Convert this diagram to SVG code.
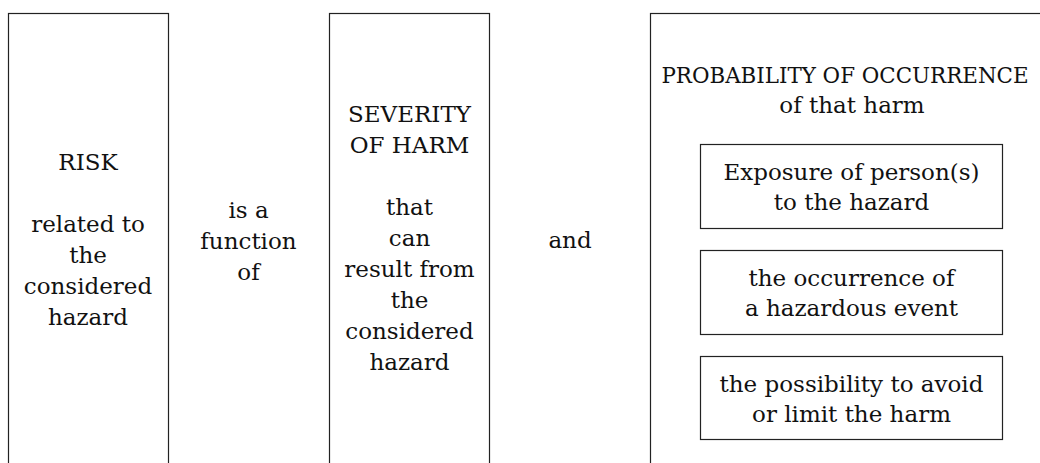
<svg xmlns="http://www.w3.org/2000/svg" width="1040" height="463" viewBox="0 0 1040 463">
<style>
.box{fill:#fff;stroke:#222;stroke-width:1.2}
text{font-family:"DejaVu Serif","Liberation Serif",serif;font-size:23px;fill:#111;text-anchor:middle}
.title{font-size:21.4px}
</style>
<rect width="1040" height="463" fill="#fff"/>
<g id="risk">
<rect class="box" x="8.5" y="13.5" width="160" height="470"/>
<text x="88" y="170">RISK</text>
<text x="88" y="232">related to</text>
<text x="88" y="263">the</text>
<text x="88" y="294">considered</text>
<text x="88" y="325">hazard</text>
</g>
<g id="function-of">
<text x="248.5" y="218">is a</text>
<text x="248.5" y="249">function</text>
<text x="248.5" y="280">of</text>
</g>
<g id="severity">
<rect class="box" x="329.5" y="13.5" width="160" height="470"/>
<text x="409.5" y="122">SEVERITY</text>
<text x="409.5" y="153">OF HARM</text>
<text x="409.5" y="215">that</text>
<text x="409.5" y="246">can</text>
<text x="409.5" y="277">result from</text>
<text x="409.5" y="308">the</text>
<text x="409.5" y="339">considered</text>
<text x="409.5" y="370">hazard</text>
</g>
<g id="and">
<text x="570" y="248">and</text>
</g>
<g id="probability">
<rect class="box" x="650.5" y="13.5" width="404" height="470"/>
<text class="title" x="845" y="83">PROBABILITY OF OCCURRENCE</text>
<text x="852" y="113">of that harm</text>
</g>
<g id="exposure">
<rect class="box" x="700.5" y="144.5" width="302" height="84"/>
<text x="851.5" y="180">Exposure of person(s)</text>
<text x="851.5" y="210">to the hazard</text>
</g>
<g id="hazardous-event">
<rect class="box" x="700.5" y="250.5" width="302" height="84"/>
<text x="851.5" y="286">the occurrence of</text>
<text x="851.5" y="316">a hazardous event</text>
</g>
<g id="avoid">
<rect class="box" x="700.5" y="356.5" width="302" height="83"/>
<text x="851.5" y="392">the possibility to avoid</text>
<text x="851.5" y="422">or limit the harm</text>
</g>
<g id="connectors"></g>
</svg>
